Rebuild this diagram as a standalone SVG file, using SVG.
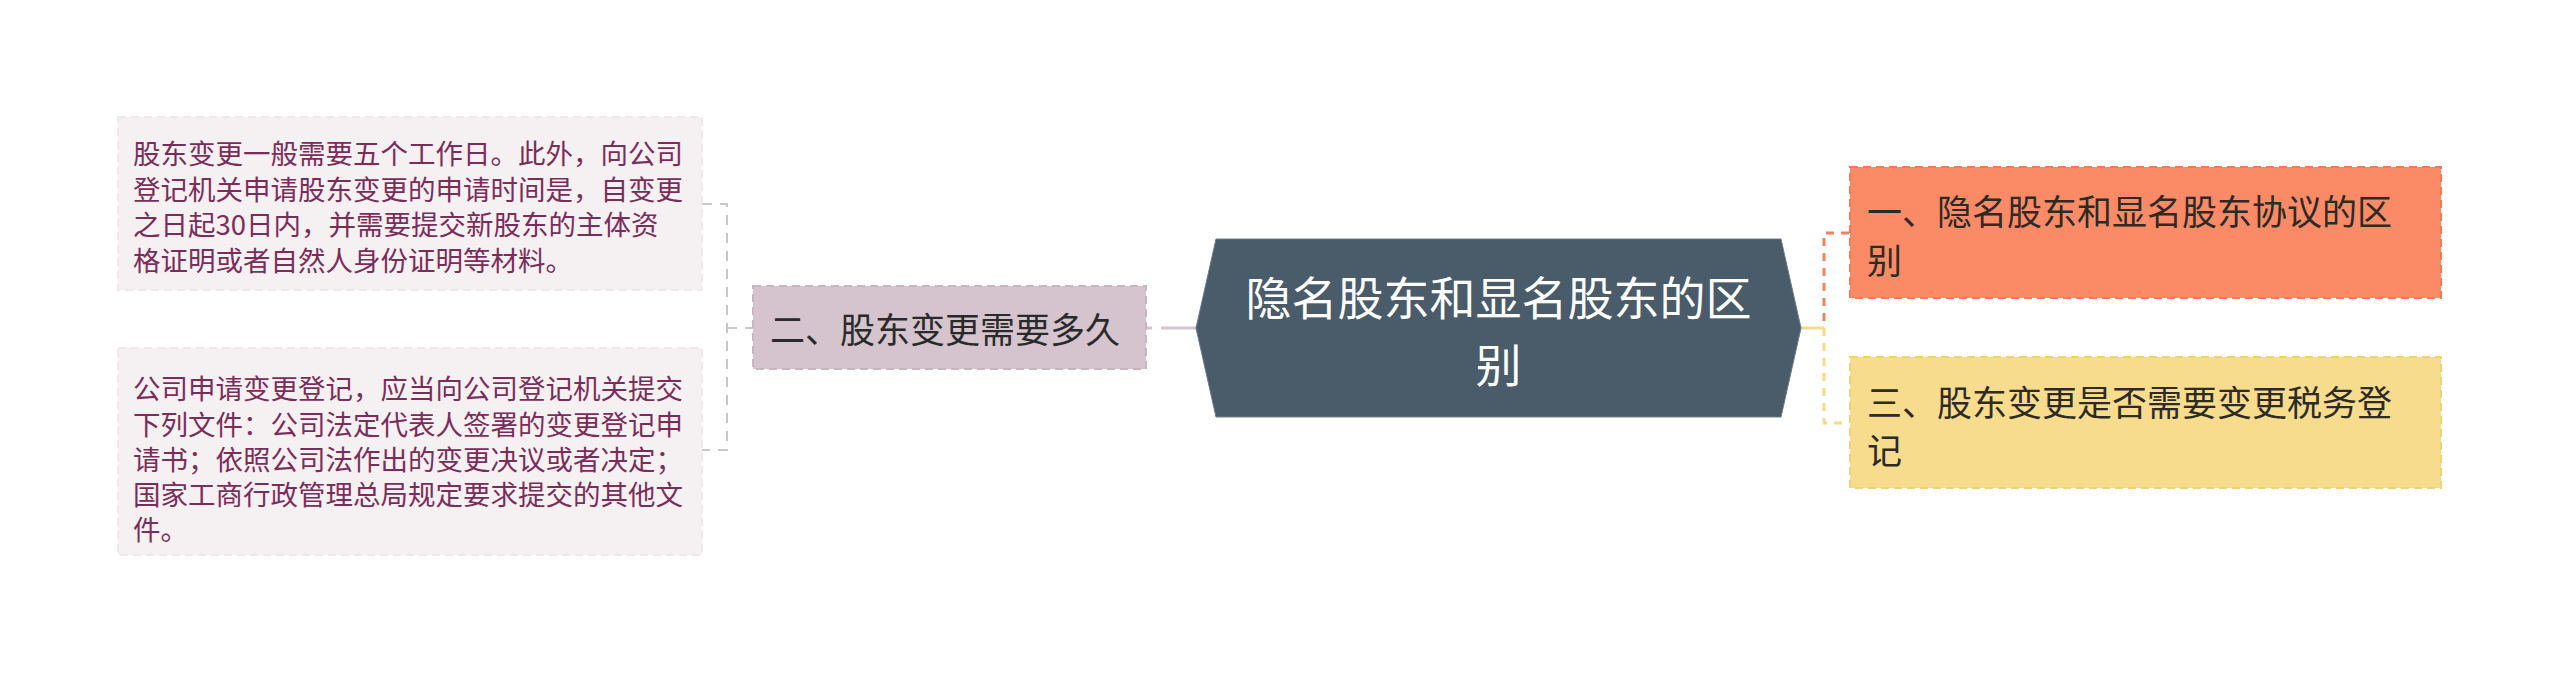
<svg xmlns="http://www.w3.org/2000/svg" width="2560" height="674" viewBox="0 0 2560 674">
<style>
  text { font-family: "Noto Sans CJK SC", "Noto Sans", sans-serif; dominant-baseline: central; }
  .leaf { fill: #f5f0f2; stroke: #efe8eb; stroke-width: 2; stroke-dasharray: 8 5; }
  .leaftxt { font-size: 27.5px; fill: #7b2d5a; }
  .mid { fill: #d5c4cd; stroke: #c9b5bf; stroke-width: 2; stroke-dasharray: 8 5; }
  .midtxt { font-size: 35px; fill: #2a2a2a; }
  .orange { fill: #fb8a66; stroke: #f27a55; stroke-width: 2; stroke-dasharray: 8 5; }
  .yellow { fill: #f6dc8c; stroke: #eed17a; stroke-width: 2; stroke-dasharray: 8 5; }
  .righttxt { font-size: 35px; fill: #2e2a26; }
  .centertxt { font-size: 46px; fill: #ffffff; text-anchor: middle; }
  .gray { fill: none; stroke: #c8c8c8; stroke-width: 2; stroke-dasharray: 10 8; }
  .oline { fill: none; stroke: #f08060; stroke-width: 3; stroke-dasharray: 8 7; }
  .yline { fill: none; stroke: #f5da88; stroke-width: 3; stroke-dasharray: 8 7; }
</style>
<rect width="2560" height="674" fill="#ffffff"/>
<g id="connectors">
  <path class="gray" d="M702,204 H727 V450 H702"/>
  <path class="gray" d="M727,328 H753"/>
  <line x1="1146" y1="328" x2="1196" y2="328" stroke="#d5c4cd" stroke-width="3" stroke-dasharray="6 9 200"/>
  <line x1="1800" y1="328" x2="1824" y2="328" stroke="#f5da88" stroke-width="3"/>
  <path class="oline" d="M1849,233 H1824 V328"/>
  <path class="yline" d="M1824,328 V423 H1849"/>
</g>
<g id="leaf1">
  <rect class="leaf" x="118" y="117" width="584" height="173"/>
  <text class="leaftxt"><tspan x="133" y="152">股东变更一般需要五个工作日。此外，向公司</tspan><tspan x="133" y="188">登记机关申请股东变更的申请时间是，自变更</tspan><tspan x="133" y="223">之日起30日内，并需要提交新股东的主体资</tspan><tspan x="133" y="259">格证明或者自然人身份证明等材料。</tspan></text>
</g>
<g id="leaf2">
  <rect class="leaf" x="118" y="348" width="584" height="207"/>
  <text class="leaftxt"><tspan x="133" y="387">公司申请变更登记，应当向公司登记机关提交</tspan><tspan x="133" y="423">下列文件：公司法定代表人签署的变更登记申</tspan><tspan x="133" y="458">请书；依照公司法作出的变更决议或者决定；</tspan><tspan x="133" y="493">国家工商行政管理总局规定要求提交的其他文</tspan><tspan x="133" y="528">件。</tspan></text>
</g>
<g id="node-mid">
  <rect class="mid" x="753" y="286" width="393" height="83"/>
  <text class="midtxt" x="770" y="327">二、股东变更需要多久</text>
</g>
<g id="node-center">
  <polygon points="1196,328 1216,239 1781,239 1801,328 1781,417 1216,417" fill="#4a5b6a" stroke="#6b7a88" stroke-width="1"/>
  <text class="centertxt"><tspan x="1498.5" y="295">隐名股东和显名股东的区</tspan><tspan x="1498.5" y="362">别</tspan></text>
</g>
<g id="node-orange">
  <rect class="orange" x="1850" y="167" width="591" height="131"/>
  <text class="righttxt"><tspan x="1867" y="209">一、隐名股东和显名股东协议的区</tspan><tspan x="1867" y="258">别</tspan></text>
</g>
<g id="node-yellow">
  <rect class="yellow" x="1850" y="357" width="591" height="131"/>
  <text class="righttxt"><tspan x="1867" y="400">三、股东变更是否需要变更税务登</tspan><tspan x="1867" y="448">记</tspan></text>
</g>
</svg>
